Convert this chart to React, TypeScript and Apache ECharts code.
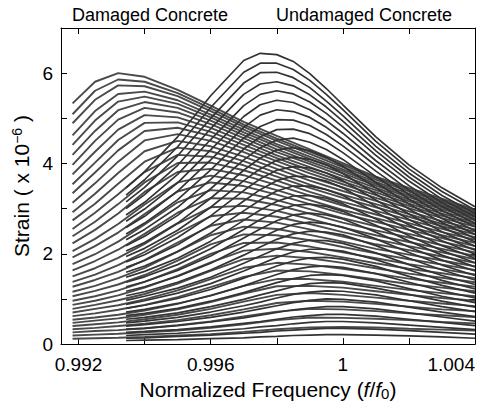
import React, { useEffect, useRef } from 'react';
import * as echarts from 'echarts';

// Normalized frequency (f/f0) sample points of each family
const damagedFreq = [0.99182, 0.9925, 0.9932, 0.994, 0.995, 0.996, 0.997, 0.998, 0.999, 1.0, 1.001, 1.002, 1.003, 1.004];
const undamagedFreq = [0.99344, 0.994, 0.995, 0.996, 0.997, 0.9975, 0.998, 0.9985, 0.999, 0.9995, 1.0, 1.001, 1.002, 1.003, 1.004];

// Strain (x 1e-6), one row per drive level, damaged concrete
const damagedStrain = [
  [5.33, 5.81, 6.0, 5.92, 5.63, 5.28, 4.92, 4.61, 4.31, 4.01, 3.71, 3.46, 3.22, 2.98],
  [5.09, 5.61, 5.86, 5.81, 5.56, 5.22, 4.86, 4.55, 4.26, 3.97, 3.68, 3.42, 3.18, 2.95],
  [4.89, 5.41, 5.73, 5.71, 5.49, 5.16, 4.81, 4.5, 4.21, 3.92, 3.64, 3.38, 3.15, 2.92],
  [4.62, 5.16, 5.54, 5.59, 5.4, 5.08, 4.75, 4.43, 4.15, 3.87, 3.59, 3.33, 3.11, 2.88],
  [4.41, 4.95, 5.37, 5.48, 5.32, 5.02, 4.69, 4.38, 4.1, 3.83, 3.55, 3.29, 3.07, 2.85],
  [4.19, 4.72, 5.18, 5.36, 5.23, 4.95, 4.63, 4.31, 4.04, 3.78, 3.51, 3.25, 3.03, 2.82],
  [3.97, 4.5, 4.97, 5.23, 5.13, 4.87, 4.56, 4.25, 3.99, 3.72, 3.46, 3.2, 2.99, 2.78],
  [3.76, 4.26, 4.75, 5.07, 5.02, 4.79, 4.49, 4.18, 3.92, 3.66, 3.41, 3.16, 2.94, 2.74],
  [3.54, 4.02, 4.52, 4.9, 4.91, 4.7, 4.41, 4.12, 3.85, 3.6, 3.36, 3.11, 2.89, 2.69],
  [3.34, 3.8, 4.29, 4.72, 4.79, 4.61, 4.33, 4.05, 3.78, 3.54, 3.3, 3.06, 2.84, 2.65],
  [3.13, 3.56, 4.04, 4.51, 4.65, 4.5, 4.25, 3.97, 3.7, 3.47, 3.24, 3.01, 2.79, 2.6],
  [2.92, 3.33, 3.79, 4.27, 4.5, 4.38, 4.15, 3.88, 3.62, 3.39, 3.17, 2.94, 2.72, 2.54],
  [2.74, 3.11, 3.55, 4.04, 4.35, 4.27, 4.05, 3.79, 3.53, 3.31, 3.1, 2.88, 2.66, 2.49],
  [2.55, 2.91, 3.32, 3.81, 4.19, 4.15, 3.96, 3.71, 3.46, 3.24, 3.03, 2.82, 2.61, 2.43],
  [2.39, 2.71, 3.1, 3.58, 4.01, 4.02, 3.85, 3.62, 3.37, 3.15, 2.95, 2.75, 2.55, 2.37],
  [2.23, 2.53, 2.89, 3.37, 3.81, 3.88, 3.74, 3.52, 3.29, 3.07, 2.87, 2.68, 2.48, 2.31],
  [2.06, 2.33, 2.66, 3.09, 3.58, 3.73, 3.61, 3.41, 3.19, 2.97, 2.79, 2.6, 2.41, 2.24],
  [1.92, 2.17, 2.47, 2.88, 3.38, 3.58, 3.5, 3.31, 3.1, 2.89, 2.71, 2.53, 2.35, 2.17],
  [1.77, 1.99, 2.27, 2.65, 3.14, 3.41, 3.36, 3.19, 2.99, 2.79, 2.61, 2.44, 2.27, 2.1],
  [1.63, 1.84, 2.09, 2.44, 2.91, 3.23, 3.22, 3.08, 2.89, 2.69, 2.52, 2.36, 2.19, 2.03],
  [1.5, 1.68, 1.91, 2.22, 2.67, 3.03, 3.06, 2.95, 2.77, 2.58, 2.41, 2.26, 2.11, 1.95],
  [1.38, 1.54, 1.75, 2.04, 2.46, 2.83, 2.91, 2.82, 2.66, 2.48, 2.32, 2.17, 2.03, 1.88],
  [1.27, 1.42, 1.6, 1.86, 2.25, 2.62, 2.76, 2.69, 2.54, 2.38, 2.21, 2.08, 1.94, 1.8],
  [1.16, 1.29, 1.46, 1.69, 2.05, 2.41, 2.6, 2.55, 2.42, 2.27, 2.11, 1.98, 1.85, 1.72],
  [1.06, 1.18, 1.32, 1.53, 1.85, 2.21, 2.43, 2.41, 2.3, 2.15, 2.01, 1.88, 1.76, 1.64],
  [0.96, 1.06, 1.19, 1.38, 1.66, 2.0, 2.24, 2.25, 2.16, 2.03, 1.9, 1.77, 1.66, 1.54],
  [0.87, 0.96, 1.08, 1.25, 1.51, 1.81, 2.07, 2.11, 2.04, 1.92, 1.79, 1.67, 1.57, 1.46],
  [0.78, 0.87, 0.97, 1.11, 1.34, 1.62, 1.88, 1.96, 1.9, 1.8, 1.68, 1.56, 1.47, 1.37],
  [0.7, 0.78, 0.86, 0.99, 1.19, 1.44, 1.69, 1.8, 1.76, 1.67, 1.56, 1.45, 1.36, 1.27],
  [0.62, 0.68, 0.76, 0.87, 1.04, 1.26, 1.49, 1.63, 1.61, 1.53, 1.43, 1.33, 1.25, 1.17],
  [0.54, 0.59, 0.65, 0.74, 0.89, 1.08, 1.29, 1.44, 1.44, 1.38, 1.29, 1.2, 1.13, 1.06],
  [0.47, 0.52, 0.57, 0.65, 0.77, 0.93, 1.12, 1.28, 1.29, 1.25, 1.17, 1.09, 1.02, 0.96],
  [0.4, 0.44, 0.48, 0.55, 0.65, 0.78, 0.94, 1.09, 1.13, 1.09, 1.03, 0.96, 0.9, 0.84],
  [0.33, 0.36, 0.4, 0.45, 0.53, 0.64, 0.77, 0.91, 0.96, 0.94, 0.89, 0.83, 0.77, 0.73],
  [0.26, 0.29, 0.31, 0.35, 0.42, 0.5, 0.61, 0.72, 0.78, 0.77, 0.73, 0.68, 0.64, 0.6],
  [0.19, 0.21, 0.23, 0.26, 0.3, 0.36, 0.44, 0.53, 0.59, 0.58, 0.56, 0.53, 0.49, 0.46],
  [0.12, 0.13, 0.14, 0.16, 0.19, 0.22, 0.27, 0.33, 0.37, 0.38, 0.37, 0.34, 0.32, 0.3],
];

// Strain (x 1e-6), one row per drive level, undamaged concrete
const undamagedStrain = [
  [3.46, 3.82, 4.59, 5.5, 6.28, 6.44, 6.41, 6.26, 5.99, 5.66, 5.3, 4.59, 3.97, 3.46, 3.04],
  [3.3, 3.64, 4.37, 5.24, 6.02, 6.22, 6.22, 6.08, 5.84, 5.53, 5.19, 4.49, 3.88, 3.38, 2.97],
  [3.15, 3.47, 4.17, 5.0, 5.78, 6.01, 6.02, 5.9, 5.68, 5.38, 5.06, 4.38, 3.79, 3.29, 2.89],
  [3.0, 3.31, 3.96, 4.77, 5.53, 5.76, 5.81, 5.72, 5.52, 5.25, 4.94, 4.28, 3.7, 3.21, 2.82],
  [2.86, 3.14, 3.76, 4.53, 5.28, 5.53, 5.61, 5.54, 5.36, 5.11, 4.81, 4.18, 3.61, 3.13, 2.75],
  [2.72, 2.99, 3.57, 4.3, 5.04, 5.3, 5.4, 5.35, 5.19, 4.95, 4.67, 4.06, 3.51, 3.05, 2.67],
  [2.58, 2.83, 3.39, 4.08, 4.8, 5.07, 5.19, 5.15, 5.02, 4.8, 4.53, 3.95, 3.41, 2.96, 2.6],
  [2.44, 2.68, 3.2, 3.86, 4.56, 4.82, 4.97, 4.96, 4.84, 4.64, 4.39, 3.83, 3.31, 2.87, 2.51],
  [2.31, 2.54, 3.03, 3.65, 4.32, 4.59, 4.75, 4.76, 4.66, 4.48, 4.24, 3.71, 3.21, 2.78, 2.43],
  [2.18, 2.39, 2.85, 3.44, 4.08, 4.35, 4.52, 4.56, 4.47, 4.31, 4.09, 3.58, 3.1, 2.69, 2.34],
  [2.06, 2.25, 2.68, 3.23, 3.85, 4.12, 4.3, 4.35, 4.28, 4.14, 3.94, 3.46, 2.99, 2.59, 2.26],
  [1.94, 2.12, 2.52, 3.03, 3.62, 3.88, 4.07, 4.14, 4.09, 3.97, 3.78, 3.32, 2.88, 2.49, 2.17],
  [1.82, 1.98, 2.36, 2.84, 3.4, 3.66, 3.85, 3.93, 3.9, 3.79, 3.62, 3.19, 2.76, 2.39, 2.08],
  [1.7, 1.85, 2.2, 2.64, 3.17, 3.42, 3.62, 3.72, 3.7, 3.61, 3.46, 3.05, 2.64, 2.29, 1.99],
  [1.59, 1.73, 2.05, 2.46, 2.95, 3.19, 3.39, 3.5, 3.5, 3.42, 3.29, 2.92, 2.53, 2.18, 1.9],
  [1.48, 1.61, 1.9, 2.28, 2.74, 2.97, 3.16, 3.28, 3.29, 3.23, 3.11, 2.77, 2.4, 2.07, 1.8],
  [1.37, 1.49, 1.76, 2.11, 2.54, 2.76, 2.95, 3.07, 3.1, 3.05, 2.94, 2.63, 2.28, 1.97, 1.71],
  [1.27, 1.38, 1.63, 1.95, 2.35, 2.55, 2.73, 2.86, 2.9, 2.86, 2.77, 2.48, 2.15, 1.86, 1.62],
  [1.17, 1.27, 1.5, 1.79, 2.16, 2.35, 2.52, 2.65, 2.7, 2.67, 2.59, 2.33, 2.03, 1.75, 1.52],
  [1.07, 1.16, 1.37, 1.64, 1.97, 2.15, 2.32, 2.44, 2.5, 2.48, 2.42, 2.18, 1.9, 1.64, 1.42],
  [0.97, 1.06, 1.24, 1.48, 1.79, 1.95, 2.11, 2.23, 2.3, 2.29, 2.23, 2.02, 1.76, 1.52, 1.32],
  [0.88, 0.96, 1.13, 1.34, 1.62, 1.77, 1.92, 2.04, 2.1, 2.1, 2.06, 1.87, 1.64, 1.41, 1.22],
  [0.79, 0.86, 1.01, 1.21, 1.46, 1.59, 1.73, 1.84, 1.91, 1.92, 1.88, 1.72, 1.5, 1.3, 1.13],
  [0.71, 0.77, 0.9, 1.07, 1.29, 1.42, 1.54, 1.65, 1.71, 1.73, 1.7, 1.56, 1.37, 1.18, 1.02],
  [0.63, 0.68, 0.79, 0.95, 1.14, 1.25, 1.36, 1.45, 1.52, 1.54, 1.52, 1.4, 1.23, 1.06, 0.92],
  [0.55, 0.59, 0.69, 0.83, 0.99, 1.09, 1.18, 1.27, 1.34, 1.36, 1.35, 1.24, 1.1, 0.95, 0.82],
  [0.47, 0.51, 0.59, 0.71, 0.85, 0.93, 1.02, 1.1, 1.15, 1.18, 1.17, 1.09, 0.96, 0.83, 0.72],
  [0.4, 0.43, 0.5, 0.59, 0.71, 0.78, 0.85, 0.92, 0.97, 1.0, 0.99, 0.93, 0.82, 0.71, 0.61],
  [0.33, 0.35, 0.41, 0.49, 0.58, 0.64, 0.7, 0.76, 0.8, 0.83, 0.83, 0.78, 0.69, 0.6, 0.51],
  [0.26, 0.28, 0.32, 0.38, 0.46, 0.5, 0.55, 0.6, 0.63, 0.66, 0.66, 0.62, 0.55, 0.48, 0.41],
  [0.19, 0.21, 0.24, 0.29, 0.34, 0.38, 0.41, 0.45, 0.48, 0.5, 0.5, 0.47, 0.42, 0.37, 0.32],
  [0.13, 0.14, 0.17, 0.2, 0.24, 0.26, 0.29, 0.31, 0.33, 0.35, 0.35, 0.33, 0.3, 0.26, 0.22],
  [0.08, 0.09, 0.1, 0.12, 0.14, 0.16, 0.17, 0.19, 0.2, 0.21, 0.21, 0.2, 0.18, 0.16, 0.13],
];

const xTickValues = [0.992, 0.994, 0.996, 0.998, 1.0, 1.002, 1.004];
const xLabelValues = [0.992, 0.996, 1.0, 1.004];
const yLabelValues = [0, 2, 4, 6];
const familyLabels = ['Damaged Concrete', 'Undamaged Concrete'];

const FONT = '"Liberation Sans", Arial, Helvetica, sans-serif';

export default function App() {
  const ref = useRef<HTMLDivElement>(null);

  useEffect(() => {
    document.body.style.margin = '0';
    const chart = echarts.init(ref.current as HTMLDivElement, null, { renderer: 'svg' });

    const makeSeries = (freq: number[], rows: number[][], color: string, width: number, prefix: string) =>
      rows.map((row, i) => ({
        type: 'line',
        name: prefix + ' ' + (i + 1),
        data: row.map((v, k) => [freq[k], v]),
        showSymbol: false,
        symbol: 'none',
        silent: true,
        clip: true,
        lineStyle: { color, width },
      }));

    const tickStyle = { color: '#000', width: 1 };
    const xCommon = {
      type: 'value',
      min: 0.99147,
      max: 1.004,
      splitLine: { show: false },
      axisLine: { show: true, onZero: false, lineStyle: tickStyle },
      axisTick: { show: true, inside: true, length: 6, customValues: xTickValues, lineStyle: tickStyle },
    };
    const yCommon = {
      type: 'value',
      min: 0,
      max: 7,
      interval: 1,
      splitLine: { show: false },
      axisLine: { show: true, onZero: false, lineStyle: tickStyle },
      axisTick: { show: true, inside: true, length: 6, lineStyle: tickStyle },
    };

    chart.setOption({
      animation: false,
      backgroundColor: '#fff',
      grid: { left: 61, right: 3, top: 28, bottom: 53, containLabel: false },
      xAxis: [
        {
          ...xCommon,
          position: 'bottom',
          axisLabel: {
            customValues: xLabelValues,
            formatter: (v: number) => (Math.abs(v - 1) < 1e-9 ? '1' : String(+v.toFixed(3))),
            color: '#000',
            fontSize: 19,
            fontFamily: FONT,
            margin: 11,
            alignMaxLabel: 'right',
          },
          name: '{n|Normalized Frequency (}{i|f}{n|/}{i|f}{s|0}{n|)}',
          nameLocation: 'middle',
          nameGap: 29,
          nameTextStyle: {
            color: '#000',
            fontFamily: FONT,
            fontSize: 21,
            rich: {
              n: { fontSize: 21, fontFamily: FONT, color: '#000', lineHeight: 23 },
              i: { fontSize: 21, fontFamily: FONT, color: '#000', fontStyle: 'italic', lineHeight: 23 },
              s: { fontSize: 15, fontFamily: FONT, color: '#000', lineHeight: 15, verticalAlign: 'bottom' },
            },
          },
        },
        { ...xCommon, position: 'top', axisLabel: { show: false } },
      ],
      yAxis: [
        {
          ...yCommon,
          position: 'left',
          axisLabel: {
            customValues: yLabelValues,
            color: '#000',
            fontSize: 19,
            fontFamily: FONT,
            margin: 8,
          },
          name: '{n|Strain ( x 10}{p|\u22126}{n| )}',
          nameLocation: 'middle',
          nameRotate: 90,
          nameGap: 23,
          nameTextStyle: {
            color: '#000',
            fontFamily: FONT,
            fontSize: 21,
            rich: {
              n: { fontSize: 21, fontFamily: FONT, color: '#000', lineHeight: 23 },
              p: { fontSize: 14, fontFamily: FONT, color: '#000', lineHeight: 14, verticalAlign: 'top' },
            },
          },
        },
        { ...yCommon, position: 'right', axisLabel: { show: false } },
      ],
      graphic: [
        {
          type: 'text',
          x: 150,
          y: 15,
          style: { text: familyLabels[0], fontSize: 18, fontFamily: FONT, fill: '#000', align: 'center', verticalAlign: 'middle' },
        },
        {
          type: 'text',
          x: 364,
          y: 15,
          style: { text: familyLabels[1], fontSize: 18, fontFamily: FONT, fill: '#000', align: 'center', verticalAlign: 'middle' },
        },
      ],
      series: [
        ...makeSeries(damagedFreq, damagedStrain, '#4a4a4a', 1.9, 'Damaged'),
        ...makeSeries(undamagedFreq, undamagedStrain, '#333333', 1.7, 'Undamaged'),
      ],
    });

    return () => chart.dispose();
  }, []);

  return <div ref={ref} style={{ width: 478, height: 406 }} />;
}
